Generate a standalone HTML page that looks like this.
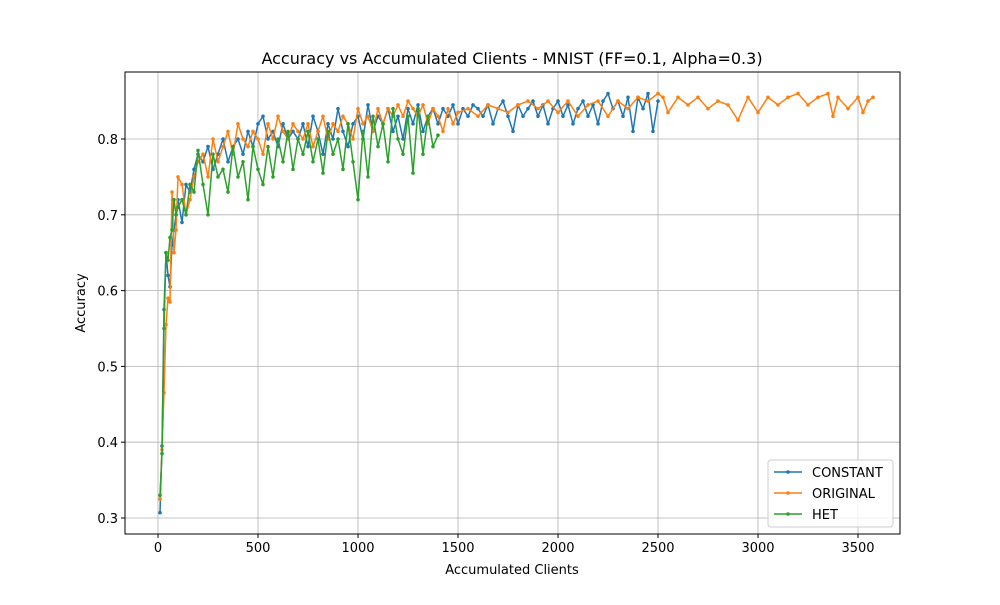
<!DOCTYPE html>
<html><head><meta charset="utf-8"><style>
body{margin:0;background:#fff;font-family:"Liberation Sans","DejaVu Sans",sans-serif}
svg text{font-family:"DejaVu Sans","Liberation Sans",sans-serif}
</style></head><body>
<svg id="chart" width="1000" height="600" xmlns="http://www.w3.org/2000/svg">
<rect width="1000" height="600" fill="#fff"/>
<text x="512" y="64" text-anchor="middle" font-size="16">Accuracy vs Accumulated Clients - MNIST (FF=0.1, Alpha=0.3)</text>
<g id="grid"></g><g id="series"></g><g id="axes"></g>
<text x="512" y="574" text-anchor="middle" font-size="13">Accumulated Clients</text>
<text transform="translate(85,303) rotate(-90)" text-anchor="middle" font-size="13">Accuracy</text>
<g>
<rect x="768" y="460" width="125" height="67" fill="#fff" fill-opacity="0.8" stroke="#ccc" rx="3"/>
<g><line x1="774" y1="472" x2="802" y2="472" stroke="#1f77b4" stroke-width="1.5"/><circle cx="788" cy="472" r="1.8" fill="#1f77b4"/><text x="812" y="477" font-size="13">CONSTANT</text></g>
<g><line x1="774" y1="493" x2="802" y2="493" stroke="#ff7f0e" stroke-width="1.5"/><circle cx="788" cy="493" r="1.8" fill="#ff7f0e"/><text x="812" y="498" font-size="13">ORIGINAL</text></g>
<g><line x1="774" y1="514" x2="802" y2="514" stroke="#2ca02c" stroke-width="1.5"/><circle cx="788" cy="514" r="1.8" fill="#2ca02c"/><text x="812" y="519" font-size="13">HET</text></g>
</g>
</svg>
<script>
const xTicks=[0,500,1000,1500,2000,2500,3000,3500];
const yTicks=[0.3,0.4,0.5,0.6,0.7,0.8];
const constantData=[[10,0.307],[20,0.395],[30,0.575],[40,0.65],[50,0.62],[60,0.605],[70,0.66],[80,0.68],[90,0.70],[100,0.72],[120,0.69],[140,0.74],[160,0.73],[180,0.76],[200,0.78],[225,0.77],[250,0.79],[275,0.76],[300,0.78],[325,0.80],[350,0.77],[375,0.79],[400,0.80],[425,0.78],[450,0.81],[475,0.79],[500,0.82],[525,0.83],[550,0.80],[575,0.81],[600,0.79],[625,0.82],[650,0.80],[675,0.81],[700,0.80],[725,0.82],[750,0.79],[775,0.83],[800,0.81],[825,0.78],[850,0.82],[875,0.80],[900,0.84],[925,0.81],[950,0.79],[975,0.82],[1000,0.83],[1025,0.80],[1050,0.845],[1075,0.81],[1100,0.83],[1125,0.82],[1150,0.84],[1175,0.81],[1200,0.83],[1225,0.80],[1250,0.84],[1275,0.82],[1300,0.845],[1325,0.81],[1350,0.83],[1375,0.84],[1400,0.82],[1425,0.84],[1450,0.83],[1475,0.845],[1500,0.82],[1525,0.84],[1550,0.83],[1575,0.845],[1600,0.84],[1625,0.83],[1650,0.845],[1675,0.82],[1700,0.84],[1725,0.85],[1750,0.83],[1775,0.81],[1800,0.845],[1825,0.83],[1850,0.84],[1875,0.85],[1900,0.83],[1925,0.845],[1950,0.82],[1975,0.84],[2000,0.85],[2025,0.83],[2050,0.845],[2075,0.82],[2100,0.84],[2125,0.85],[2150,0.83],[2175,0.845],[2200,0.82],[2225,0.85],[2250,0.86],[2275,0.84],[2300,0.85],[2325,0.83],[2350,0.855],[2375,0.81],[2400,0.855],[2425,0.84],[2450,0.86],[2475,0.81],[2500,0.85]];
const originalData=[[10,0.325],[20,0.39],[30,0.465],[40,0.555],[50,0.59],[60,0.585],[70,0.73],[80,0.65],[90,0.68],[100,0.75],[120,0.74],[140,0.70],[160,0.72],[180,0.75],[200,0.77],[225,0.78],[250,0.75],[275,0.80],[300,0.77],[325,0.79],[350,0.81],[375,0.78],[400,0.82],[425,0.80],[450,0.79],[475,0.81],[500,0.80],[525,0.78],[550,0.82],[575,0.80],[600,0.83],[625,0.81],[650,0.80],[675,0.82],[700,0.81],[725,0.80],[750,0.82],[775,0.79],[800,0.81],[825,0.83],[850,0.80],[875,0.82],[900,0.81],[925,0.83],[950,0.82],[975,0.80],[1000,0.84],[1025,0.82],[1050,0.83],[1075,0.81],[1100,0.84],[1125,0.82],[1150,0.84],[1175,0.83],[1200,0.845],[1225,0.83],[1250,0.85],[1275,0.84],[1300,0.83],[1325,0.845],[1350,0.82],[1375,0.84],[1400,0.83],[1425,0.81],[1450,0.84],[1475,0.82],[1500,0.835],[1550,0.84],[1600,0.83],[1650,0.845],[1700,0.84],[1750,0.835],[1800,0.845],[1850,0.85],[1900,0.84],[1950,0.85],[2000,0.835],[2050,0.85],[2100,0.83],[2150,0.845],[2200,0.85],[2250,0.83],[2300,0.85],[2350,0.84],[2400,0.855],[2450,0.85],[2500,0.86],[2525,0.855],[2550,0.835],[2600,0.855],[2650,0.845],[2700,0.855],[2750,0.84],[2800,0.85],[2850,0.845],[2900,0.825],[2950,0.855],[3000,0.835],[3050,0.855],[3100,0.845],[3150,0.855],[3200,0.86],[3250,0.845],[3300,0.855],[3350,0.86],[3375,0.83],[3400,0.855],[3450,0.84],[3500,0.855],[3525,0.835],[3550,0.85],[3575,0.855]];
const hetData=[[10,0.33],[20,0.385],[30,0.55],[40,0.65],[50,0.64],[60,0.67],[70,0.68],[80,0.72],[90,0.70],[100,0.71],[120,0.72],[140,0.70],[160,0.74],[180,0.73],[200,0.785],[225,0.74],[250,0.70],[275,0.78],[300,0.75],[325,0.76],[350,0.73],[375,0.79],[400,0.75],[425,0.77],[450,0.72],[475,0.79],[500,0.76],[525,0.74],[550,0.79],[575,0.75],[600,0.80],[625,0.77],[650,0.81],[675,0.76],[700,0.80],[725,0.78],[750,0.81],[775,0.77],[800,0.80],[825,0.755],[850,0.81],[875,0.78],[900,0.80],[925,0.76],[950,0.82],[975,0.77],[1000,0.72],[1025,0.81],[1050,0.75],[1075,0.83],[1100,0.79],[1125,0.82],[1150,0.77],[1175,0.84],[1200,0.80],[1225,0.78],[1250,0.83],[1275,0.755],[1300,0.84],[1325,0.78],[1350,0.83],[1375,0.79],[1400,0.805]];
const NS="http://www.w3.org/2000/svg";
const L=125,R=900,T=72,B=534;
function xs(v){return 158+v*0.2;}
function ys(v){return 518-(v-0.3)*758;}
function mk(tag,attrs,parent){const e=document.createElementNS(NS,tag);for(const k in attrs)e.setAttribute(k,attrs[k]);parent.appendChild(e);return e;}
const grid=document.getElementById('grid'),axes=document.getElementById('axes'),ser=document.getElementById('series');
xTicks.forEach(t=>{const x=xs(t);
 const g=mk('line',{x1:x,x2:x,y1:T,y2:B,stroke:'#b0b0b0','stroke-width':0.8},grid);
 
 
 mk('line',{x1:x,x2:x,y1:B,y2:B+4,stroke:'#000'},axes);
 const tx=mk('text',{x:x,y:B+18,'text-anchor':'middle','font-size':13},axes);tx.textContent=t;
 
 });
yTicks.forEach(t=>{const y=ys(t);
 const g=mk('line',{x1:L,x2:R,y1:y,y2:y,stroke:'#b0b0b0','stroke-width':0.8},grid);
 
 
 mk('line',{x1:L-4,x2:L,y1:y,y2:y,stroke:'#000'},axes);
 const tx=mk('text',{x:L-7,y:y+5,'text-anchor':'end','font-size':13},axes);tx.textContent=t.toFixed(1);
 
 });
const fr=mk('rect',{x:L,y:T,width:R-L,height:B-T,fill:'none',stroke:'#000','stroke-width':1},axes);


[[constantData,'#1f77b4','constant'],[originalData,'#ff7f0e','original'],[hetData,'#2ca02c','het']].forEach(([d,c,n])=>{
 const g=mk('g',{},ser);
 
 
 const p=mk('polyline',{points:d.map(q=>xs(q[0])+','+ys(q[1])).join(' '),fill:'none',stroke:c,'stroke-width':1.5,'stroke-linejoin':'round'},g);
 
 
 d.forEach(q=>{const m=mk('circle',{cx:xs(q[0]),cy:ys(q[1]),r:1.8,fill:c},g);
  
  });
});
</script>
</body></html>
